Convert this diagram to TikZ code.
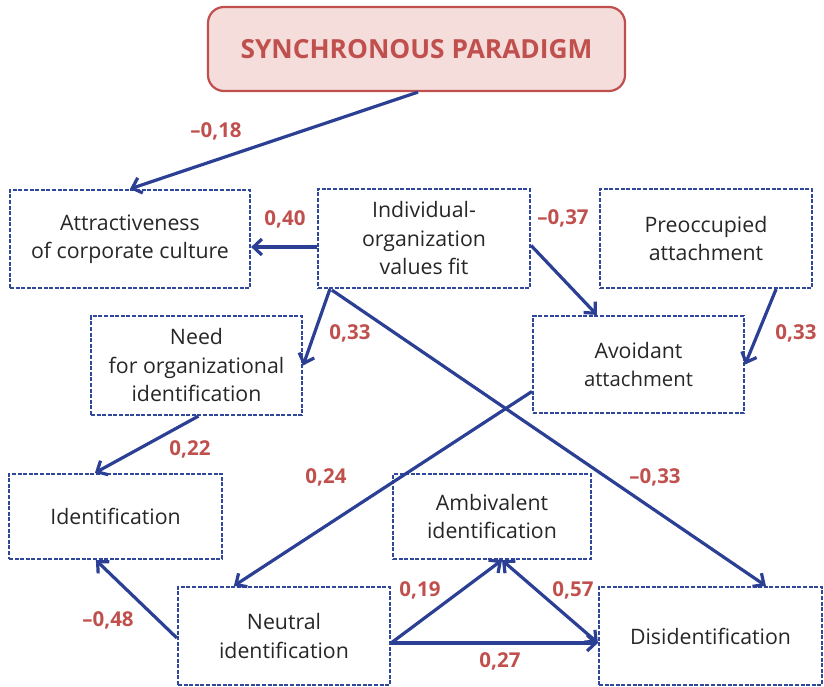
\documentclass[tikz,border=0pt]{standalone}
\usepackage{fontspec}
\setmainfont{Open Sans}
\usetikzlibrary{arrows.meta,calc}
\definecolor{linkblue}{RGB}{43,63,148}
\definecolor{boxblue}{RGB}{47,72,156}
\definecolor{coefred}{RGB}{192,80,77}
\definecolor{paradigmfill}{RGB}{244,221,219}
\definecolor{bodytext}{RGB}{38,38,38}
\tikzset{
  concept/.style={draw=boxblue, line width=2.2pt, dash pattern=on 4pt off 1.6pt,
    rectangle, inner sep=0pt, align=center, text=bodytext,
    font=\fontsize{21.3}{28.5}\selectfont},
  paradigm/.style={draw=coefred, line width=2.2pt, fill=paradigmfill,
    rounded corners=16pt, inner sep=0pt, text=coefred,
    font=\fontsize{26.3}{30}\selectfont\bfseries},
  coef/.style={text=coefred, font=\fontsize{20.5}{24}\selectfont\bfseries, inner sep=0pt},
  link/.style={draw=linkblue, line width=3.2pt,
    -{Straight Barb[length=8.5pt,width=16pt]}},
  dlink/.style={draw=linkblue, line width=3.2pt,
    {Straight Barb[length=8.5pt,width=16pt]}-{Straight Barb[length=8.5pt,width=16pt]}},
}
\begin{document}
\begin{tikzpicture}[x=1pt,y=-1pt]
\useasboundingbox (0,0) rectangle (824,687);

% top block
\node[paradigm, minimum width=417pt, minimum height=84pt] (sync) at (416.5,49) {SYNCHRONOUS PARADIGM};

% constructs
\node[concept, minimum width=240pt, minimum height=98pt] (attr) at (130,239) {Attractiveness\\of corporate culture};
\node[concept, minimum width=212pt, minimum height=99pt] (fit) at (424,238.5) {Individual-\\organization\\values fit};
\node[concept, minimum width=212pt, minimum height=99pt] (preocc) at (706,238.5) {Preoccupied\\attachment};
\node[concept, minimum width=211pt, minimum height=97pt] (avoid) at (638.5,364.5) {Avoidant\\{\fontsize{20.3}{28.5}\selectfont attachment}};
\node[concept, minimum width=211pt, minimum height=99pt] (need) at (196.5,365.5) {Need\\for organizational\\identification};
\node[concept, minimum width=213pt, minimum height=85pt] (ident) at (115.5,516.5) {Identification};
\node[concept, minimum width=212pt, minimum height=98pt] (neutral) at (284,636) {Neutral\\identification};
\node[concept, minimum width=198pt, minimum height=85pt] (ambiv) at (492,516.5) {Ambivalent\\identification};
\node[concept, minimum width=223pt, minimum height=98pt] (disid) at (710.5,636) {Disidentification};

% paths
\draw[link] ([xshift=1.5pt]sync.south) -- (attr.north);
\draw[link] ([yshift=-8.5pt]fit.west) -- ([yshift=-8pt]attr.east);
\draw[link] ([xshift=13pt]fit.south west) -- (need.east);
\draw[link] ([yshift=-7pt]fit.east) -- ([xshift=65pt]avoid.north west);
\draw[link] ([xshift=15pt,yshift=-1pt]fit.south west) -- ([xshift=168pt]disid.north west);
\draw[link] ([xshift=-37pt]preocc.south east) -- (avoid.east);
\draw[link] ([xshift=2pt]need.south) -- ([xshift=87pt]ident.north west);
\draw[link] ([yshift=-27pt]avoid.west) -- ([xshift=57pt]neutral.north west);
\draw[link] ([yshift=-2pt]neutral.west) -- ([xshift=88pt]ident.south west);
\draw[link] ([yshift=-7pt]neutral.east) -- ([xshift=10pt]ambiv.south);
\draw[link] ([yshift=-7pt]neutral.east) -- ([yshift=-7pt]disid.west);
\draw[dlink] ([xshift=10pt]ambiv.south) -- ([yshift=-7pt]disid.west);

% path coefficients
\node[coef] (c1) at (216,131) {–0,18};
\node[coef] (c2) at (285,219) {0,40};
\node[coef] (c3) at (563,218) {–0,37};
\node[coef] (c4) at (350,333) {0,33};
\node[coef] (c5) at (796,333) {0,33};
\node[coef] (c6) at (190,449) {0,22};
\node[coef] (c7) at (326,477) {0,24};
\node[coef] (c8) at (655,477) {–0,33};
\node[coef] (c9) at (108,620) {–0,48};
\node[coef] (c10) at (420,590) {0,19};
\node[coef] (c11) at (573,590) {0,57};
\node[coef] (c12) at (500,661) {0,27};
\end{tikzpicture}
\end{document}
